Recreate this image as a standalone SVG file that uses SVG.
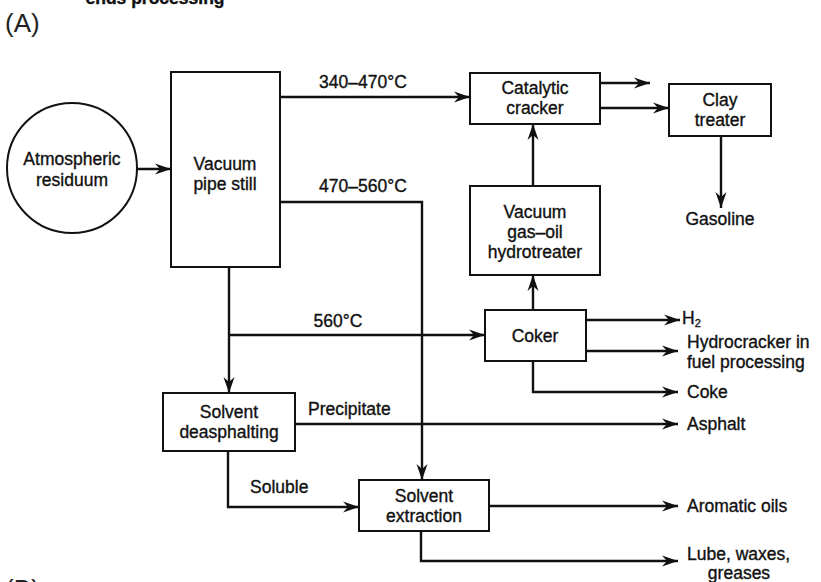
<svg xmlns="http://www.w3.org/2000/svg" width="821" height="582" viewBox="0 0 821 582">
<defs>
<marker id="ah" markerUnits="userSpaceOnUse" markerWidth="18" markerHeight="12" refX="16" refY="6" orient="auto">
<path d="M0,0.5 L16,6 L0,11.5 L5,6 Z" fill="#111"/>
</marker>
<style>
.box{fill:#fff;stroke:#111;stroke-width:2}
.ln{fill:none;stroke:#111;stroke-width:2.4}
.ar{fill:none;stroke:#111;stroke-width:2.4;marker-end:url(#ah)}
text{font-family:"Liberation Sans",Arial,sans-serif;font-size:17.5px;fill:#111;stroke:#111;stroke-width:0.35}
.c{text-anchor:middle}
.lbl{font-size:26px;fill:#222;stroke:none}
</style>
</defs>
<rect width="821" height="582" fill="#fff"/>
<text class="c" x="155" y="4" font-weight="bold">ends processing</text>
<text class="lbl" x="5" y="32">(A)</text>
<text class="lbl" x="5" y="598">(B)</text>

<g id="connectors">
<line class="ar" x1="137" y1="169" x2="171" y2="169"/>
<line class="ar" x1="280" y1="97" x2="470" y2="97"/>
<polyline class="ar" points="280,202 422,202 422,480"/>
<line class="ar" x1="533" y1="186" x2="533" y2="124"/>
<line class="ar" x1="600" y1="83" x2="650" y2="83"/>
<line class="ar" x1="600" y1="108" x2="669" y2="108"/>
<line class="ar" x1="721" y1="136" x2="721" y2="208"/>
<polyline class="ar" points="229,267 229,393"/>
<line class="ar" x1="229" y1="335" x2="485" y2="335"/>
<line class="ar" x1="533" y1="310" x2="533" y2="275"/>
<line class="ar" x1="586" y1="320" x2="680" y2="320"/>
<line class="ar" x1="586" y1="351" x2="678" y2="351"/>
<polyline class="ar" points="533,361 533,392 678,392"/>
<line class="ar" x1="295" y1="424" x2="678" y2="424"/>
<polyline class="ar" points="228,451 228,507 359,507"/>
<line class="ar" x1="489" y1="506" x2="678" y2="506"/>
<polyline class="ar" points="421,531 421,561 678,561"/>
</g>

<g id="atmospheric">
<circle class="box" cx="72" cy="168" r="65"/>
<text class="c" x="72" y="165">Atmospheric</text>
<text class="c" x="72" y="186">residuum</text>
</g>
<g id="vacuum-pipe-still">
<rect class="box" x="171" y="72" width="109" height="195"/>
<text class="c" x="225" y="170">Vacuum</text>
<text class="c" x="225" y="190">pipe still</text>
</g>
<g id="catalytic-cracker">
<rect class="box" x="470" y="73" width="130" height="51"/>
<text class="c" x="535" y="94">Catalytic</text>
<text class="c" x="535" y="114">cracker</text>
</g>
<g id="clay-treater">
<rect class="box" x="669" y="84" width="102" height="52"/>
<text class="c" x="720" y="106">Clay</text>
<text class="c" x="720" y="126">treater</text>
</g>
<g id="vgo-hydrotreater">
<rect class="box" x="470" y="186" width="130" height="89"/>
<text class="c" x="535" y="218">Vacuum</text>
<text class="c" x="535" y="238">gas–oil</text>
<text class="c" x="535" y="258">hydrotreater</text>
</g>
<g id="coker">
<rect class="box" x="485" y="310" width="101" height="51"/>
<text class="c" x="535" y="342">Coker</text>
</g>
<g id="solvent-deasphalting">
<rect class="box" x="163" y="393" width="132" height="58"/>
<text class="c" x="229" y="418">Solvent</text>
<text class="c" x="229" y="438">deasphalting</text>
</g>
<g id="solvent-extraction">
<rect class="box" x="359" y="480" width="130" height="51"/>
<text class="c" x="424" y="502">Solvent</text>
<text class="c" x="424" y="522">extraction</text>
</g>

<g id="labels">
<text class="c" x="363" y="88">340–470°C</text>
<text class="c" x="363" y="192">470–560°C</text>
<text class="c" x="338" y="327">560°C</text>
<text x="308" y="415">Precipitate</text>
<text x="250" y="493">Soluble</text>
<text class="c" x="720" y="225">Gasoline</text>
<text x="682" y="324">H<tspan font-size="11" dy="3">2</tspan></text>
<text x="687" y="348">Hydrocracker in</text>
<text x="687" y="368">fuel processing</text>
<text x="687" y="398">Coke</text>
<text x="687" y="430">Asphalt</text>
<text x="687" y="512">Aromatic oils</text>
<text x="687" y="560">Lube, waxes,</text>
<text class="c" x="739" y="579">greases</text>
</g>
</svg>
